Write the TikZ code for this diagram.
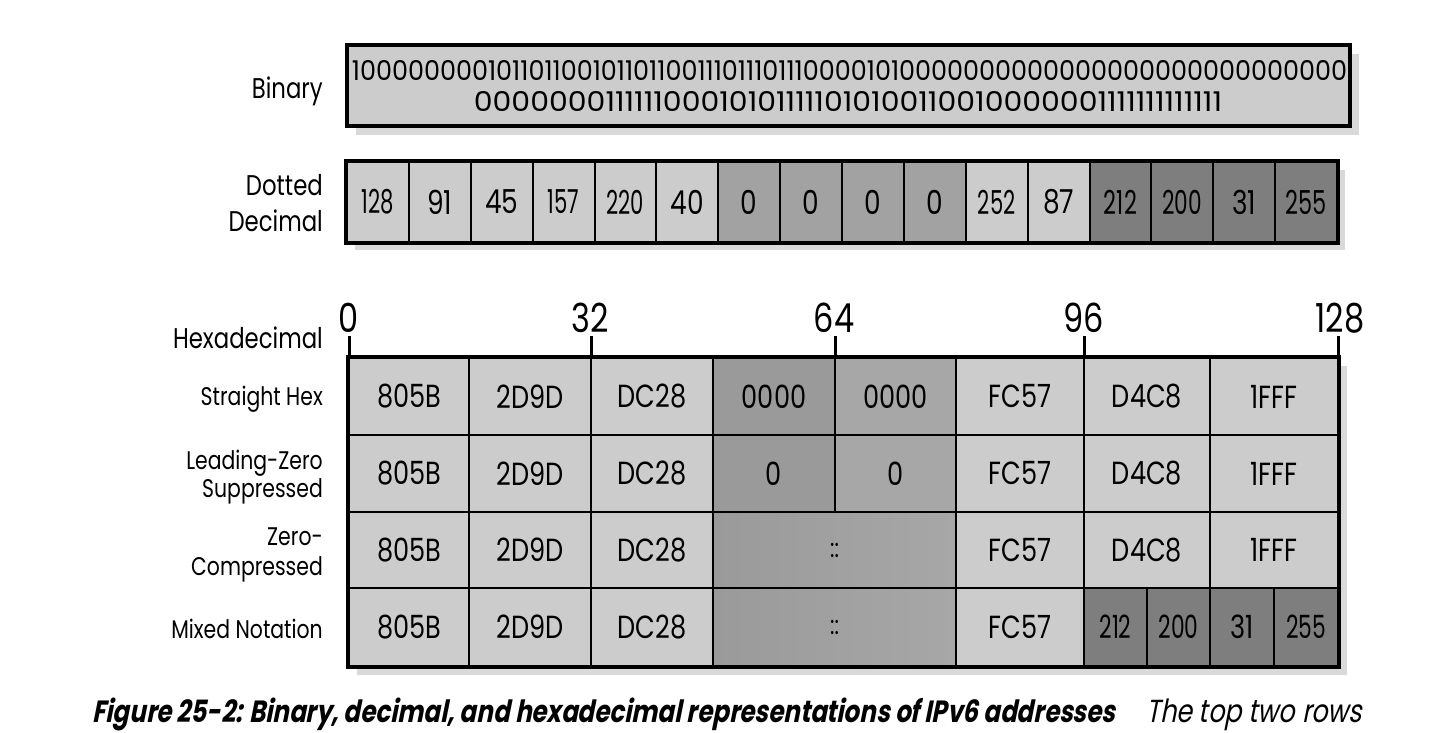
\documentclass[tikz,border=0pt]{standalone}
\usepackage{fontspec}
\usepackage{graphicx}
\setmainfont{Poppins}[FakeStretch=0.8]
\newfontfamily\capfont{Poppins}[FakeStretch=0.8,FakeSlant=0.2]
\definecolor{cl}{HTML}{CCCCCC}
\definecolor{cmA}{HTML}{9A9A9A}
\definecolor{cmB}{HTML}{A7A7A7}
\definecolor{cmC}{HTML}{A2A2A2}
\definecolor{cd}{HTML}{7E7E7E}
\definecolor{shd}{HTML}{D9D9D9}
\tikzset{
  hc/.style={draw=black, line width=2pt, inner sep=0pt, anchor=center},
  big/.style={font=\fontsize{28.5}{30}\selectfont, inner sep=0pt, anchor=base east},
  small/.style={font=\fontsize{25.5}{27}\selectfont, inner sep=0pt, anchor=base east},
  tick/.style={line width=3pt},
  ticklbl/.style={font=\fontsize{40}{44}\selectfont, inner sep=0pt, anchor=center},
  outer/.style={draw=black, line width=4pt},
  shadowbox/.style={fill=shd, draw=none}
}
\newcommand\hcell[7]{\node[hc, #6, minimum width={#3-#2}, minimum height={#5-#4}] (#1) at ({(#2+#3)/2},{(#4+#5)/2}) {#7};}
\newcommand\sqz[2]{\scalebox{#1}[1]{#2}}
\begin{document}
\begin{tikzpicture}[x=1pt,y=-1pt]
\useasboundingbox (0,0) rectangle (1438,732);
% ---------------- Binary
\fill[shadowbox] (356,54) rectangle (1359,135);
\node[outer, fill=cl, minimum width=1003, minimum height=81, inner sep=0pt] (bin) at (848.5,85.5) {};
\node[inner sep=0pt, anchor=base] (b1) at (849.5,80) {\resizebox{995pt}{20pt}{1000000001011011001011011001110111011100001010000000000000000000000000000}};
\node[inner sep=0pt, anchor=base] (b2) at (848,111) {\resizebox{748pt}{20pt}{0000000111111000101011111010100110010000001111111111111}};
\node[big] (lbin) at (323,98) {Binary};
% ---------------- Dotted decimal
\fill[shadowbox] (355,170) rectangle (1345,250);
\foreach \v/\f/\s [count=\i from 0] in {128/cl/0.8,91/cl/1,45/cl/1,157/cl/0.8,220/cl/0.8,40/cl/1,0/cmC/1,0/cmC/1,0/cmC/1,0/cmC/1,252/cl/0.8,87/cl/1,212/cd/0.85,200/cd/0.82,31/cd/1,255/cd/0.85}{
  \node[hc, fill=\f, minimum width=61.875, minimum height=80, font=\fontsize{33}{35}\selectfont] (d\i) at ({347+61.875*(\i+0.5)},202) {\sqz{\s}{\v}};
}
\draw[outer] (d0.north west) rectangle (d15.south east);
\node[big] (ldot1) at (323,195) {Dotted};
\node[big] (ldot2) at (323,231) {Decimal};
% ---------------- Hex table
\fill[shadowbox] (357,366) rectangle (1347,675);
\begin{scope}[font=\fontsize{32}{34}\selectfont]
% row 1
\hcell{a1}{349}{469}{358}{435}{fill=cl}{805B}
\hcell{a2}{469}{591}{358}{435}{fill=cl}{2D9D}
\hcell{a3}{591}{713}{358}{435}{fill=cl}{DC28}
\hcell{a4}{713}{835}{358}{435}{fill=cmA}{0000}
\hcell{a5}{835}{956}{358}{435}{fill=cmB}{0000}
\hcell{a6}{956}{1084}{358}{435}{fill=cl}{FC57}
\hcell{a7}{1084}{1210}{358}{435}{fill=cl}{D4C8}
\hcell{a8}{1210}{1338}{358}{435}{fill=cl}{1FFF}
% row 2
\hcell{b1}{349}{469}{435}{512}{fill=cl}{805B}
\hcell{b2}{469}{591}{435}{512}{fill=cl}{2D9D}
\hcell{b3}{591}{713}{435}{512}{fill=cl}{DC28}
\hcell{b4}{713}{835}{435}{512}{fill=cmA}{0}
\hcell{b5}{835}{956}{435}{512}{fill=cmB}{0}
\hcell{b6}{956}{1084}{435}{512}{fill=cl}{FC57}
\hcell{b7}{1084}{1210}{435}{512}{fill=cl}{D4C8}
\hcell{b8}{1210}{1338}{435}{512}{fill=cl}{1FFF}
% row 3
\hcell{c1}{349}{469}{512}{588}{fill=cl}{805B}
\hcell{c2}{469}{591}{512}{588}{fill=cl}{2D9D}
\hcell{c3}{591}{713}{512}{588}{fill=cl}{DC28}
\hcell{c4}{713}{956}{512}{588}{left color=cmA,right color=cmB}{\fontsize{26}{26}\selectfont ::}
\hcell{c6}{956}{1084}{512}{588}{fill=cl}{FC57}
\hcell{c7}{1084}{1210}{512}{588}{fill=cl}{D4C8}
\hcell{c8}{1210}{1338}{512}{588}{fill=cl}{1FFF}
% row 4
\hcell{e1}{349}{469}{588}{666}{fill=cl}{805B}
\hcell{e2}{469}{591}{588}{666}{fill=cl}{2D9D}
\hcell{e3}{591}{713}{588}{666}{fill=cl}{DC28}
\hcell{e4}{713}{956}{588}{666}{left color=cmA,right color=cmB}{\fontsize{26}{26}\selectfont ::}
\hcell{e6}{956}{1084}{588}{666}{fill=cl}{FC57}
\hcell{e7}{1084}{1147}{588}{666}{fill=cd}{\sqz{0.85}{212}}
\hcell{e8}{1147}{1210}{588}{666}{fill=cd}{\sqz{0.85}{200}}
\hcell{e9}{1210}{1274}{588}{666}{fill=cd}{31}
\hcell{e10}{1274}{1338}{588}{666}{fill=cd}{\sqz{0.85}{255}}
\end{scope}
\draw[outer] (a1.north west) rectangle (e10.south east);
% ticks
\coordinate (t0) at (349,336);
\coordinate (t1) at (591,336);
\coordinate (t2) at (835,336);
\coordinate (t3) at (1084,336);
\coordinate (t4) at (1338,336);
\draw[tick] (t0) -- (t0 |- a1.north);
\draw[tick] (t1) -- (t1 |- a2.north);
\draw[tick] (t2) -- (t2 |- a4.north);
\draw[tick] (t3) -- (t3 |- a6.north);
\draw[tick] (t4) -- (t4 |- a8.north);
\node[ticklbl] (n0) at (349,318) {0};
\node[ticklbl] (n1) at (590,318) {32};
\node[ticklbl] (n2) at (834,318) {64};
\node[ticklbl] (n3) at (1084,318) {96};
\node[ticklbl] (n4) at (1340,318) {128};
% labels
\node[big] (lhex) at (323,348) {Hexadecimal};
\node[small] (l1) at (323,405) {Straight Hex};
\node[small] (l2a) at (323,469) {Leading-Zero};
\node[small] (l2b) at (323,497) {Suppressed};
\node[small] (l3a) at (323,545) {Zero-};
\node[small] (l3b) at (323,575) {Compressed};
\node[small] (l4) at (323,638) {Mixed Notation};
% caption
\node[inner sep=0pt, anchor=base west] (cap1) at (92,722) {\resizebox{1023pt}{!}{\capfont\bfseries Figure 25-2: Binary, decimal, and hexadecimal representations of IPv6 addresses}};
\node[inner sep=0pt, anchor=base west] (cap2) at (1146,722) {\resizebox{216pt}{!}{\capfont The top two rows}};
\end{tikzpicture}
\end{document}
